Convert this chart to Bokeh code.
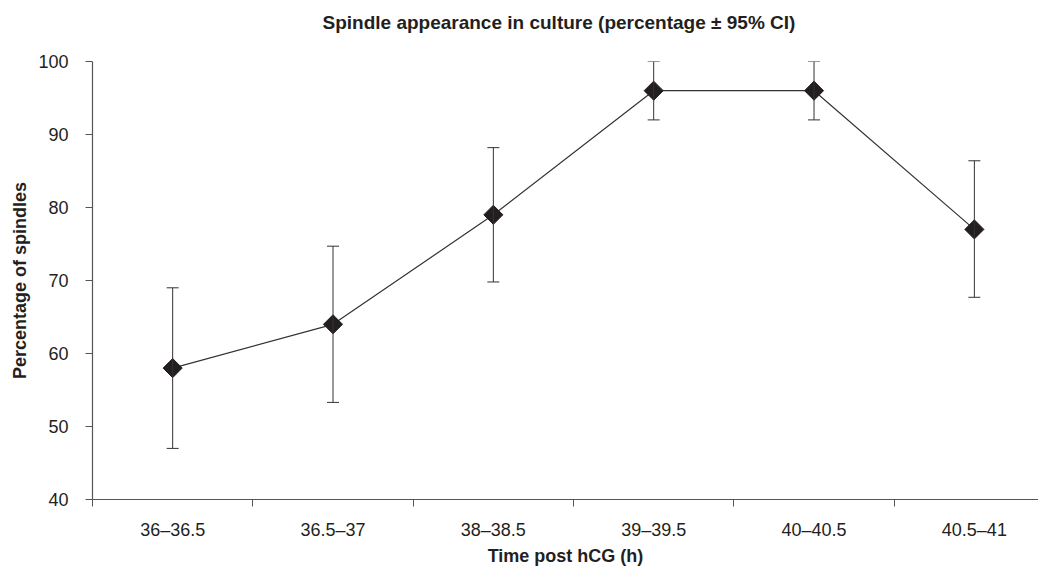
import math
from bokeh.plotting import figure
from bokeh.models import Range1d, FixedTicker, ColumnDataSource, Whisker, TeeHead, Title
from bokeh.embed import file_html
from bokeh.resources import INLINE

# ---- data ----
categories = ["36–36.5", "36.5–37", "38–38.5", "39–39.5", "40–40.5", "40.5–41"]
percent = [58, 64, 79, 96, 96, 77]
ci_lower = [47.0, 53.3, 69.8, 92.0, 92.0, 67.7]
ci_upper = [69.0, 74.7, 88.2, 100.0, 100.0, 86.4]
y_ticks = [40, 50, 60, 70, 80, 90, 100]

TITLE = "Spindle appearance in culture (percentage ± 95% CI)"
X_LABEL = "Time post hCG (h)"
Y_LABEL = "Percentage of spindles"

# category centres on a numeric axis, boundaries used as tick marks
xpos = [i + 0.5 for i in range(len(categories))]
bounds = [float(i) for i in range(len(categories))]

src = ColumnDataSource(dict(x=xpos, y=percent, lower=ci_lower, upper=ci_upper))

FONT = "Liberation Sans"
DARK = "#231f20"
AXC = "#555555"

p = figure(
    frame_width=946, frame_height=438,
    x_range=Range1d(0, 5.9), y_range=Range1d(40, 100),
    output_backend="svg", toolbar_location=None,
    min_border_left=92, min_border_right=0, min_border_top=61, min_border_bottom=0,
)
p.outline_line_color = None
p.grid.visible = False
p.background_fill_color = "white"
p.border_fill_color = "white"

# spacer between frame and title, then the title itself
spacer = Title(text=" ", text_font_size="1px", standoff=26)
p.add_layout(spacer, "above")
main_title = Title(text=TITLE, text_font=FONT, text_font_size="19px",
                   text_font_style="bold", text_color=DARK,
                   align="left", offset=230, standoff=0)
p.add_layout(main_title, "above")

# x axis
xa = p.xaxis[0]
xa.ticker = FixedTicker(ticks=xpos, minor_ticks=bounds)
xa.major_label_overrides = {x: c for x, c in zip(xpos, categories)}
xa.major_tick_line_color = None
xa.minor_tick_line_color = AXC
xa.minor_tick_out = 7
xa.minor_tick_in = 0
xa.major_label_standoff = 13
xa.axis_label = X_LABEL
xa.axis_label_standoff = 3

# y axis
ya = p.yaxis[0]
ya.ticker = FixedTicker(ticks=y_ticks, minor_ticks=[])
ya.major_tick_out = 7
ya.major_tick_in = 0
ya.major_tick_line_color = AXC
ya.major_label_standoff = 17
ya.axis_label = Y_LABEL
ya.axis_label_standoff = 5

for ax in (xa, ya):
    ax.axis_line_color = AXC
    ax.axis_line_width = 1.2
    ax.major_label_text_font = FONT
    ax.major_label_text_font_size = "18px"
    ax.major_label_text_color = DARK
    ax.axis_label_text_font = FONT
    ax.axis_label_text_font_size = "18px"
    ax.axis_label_text_font_style = "bold"
    ax.axis_label_text_color = DARK

# error bars
wh = Whisker(
    source=src, base="x", lower="lower", upper="upper", dimension="height",
    line_color="#333333", line_width=1,
    upper_head=TeeHead(size=12, line_color="#333333", line_width=1),
    lower_head=TeeHead(size=12, line_color="#333333", line_width=1),
    level="glyph",
)
p.add_layout(wh)

p.line("x", "y", source=src, line_color="#333333", line_width=1.2)
p.scatter("x", "y", source=src, marker="square", size=13.5, angle=math.pi / 4,
          fill_color=DARK, line_color=DARK, line_width=1)

open("out.html", "w").write(file_html(p, INLINE))
